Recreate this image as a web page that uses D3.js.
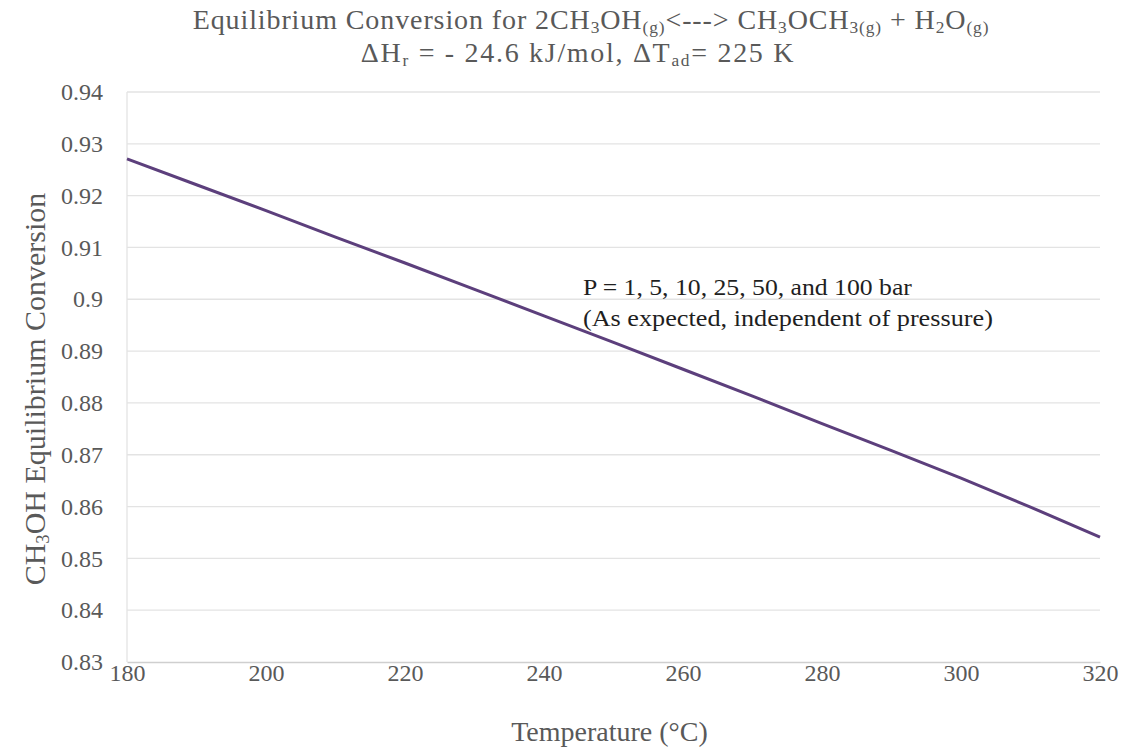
<!DOCTYPE html>
<html>
<head>
<meta charset="utf-8">
<script src="https://cdn.jsdelivr.net/npm/d3@7"></script>
<style>
  body { margin: 0; background: #fff; }
</style>
</head>
<body>
<svg id="chart" width="1128" height="749"></svg>
<script>
// temperature (°C) and equilibrium conversion
var temps = [180, 190, 200, 210, 220, 230, 240, 250, 260, 270, 280, 290, 300, 310, 320];
var conversion = [0.9271, 0.9221, 0.9171, 0.9120, 0.9070, 0.9019, 0.8968, 0.8917, 0.8865, 0.8813, 0.8760, 0.8708, 0.8655, 0.8599, 0.8541];
var xTicks = [180, 200, 220, 240, 260, 280, 300, 320];
var yTicks = [0.83, 0.84, 0.85, 0.86, 0.87, 0.88, 0.89, 0.9, 0.91, 0.92, 0.93, 0.94];
var noteLines = ["P = 1, 5, 10, 25, 50, and 100 bar", "(As expected, independent of pressure)"];
var noteWidths = [329, 410];

const FONT = "Liberation Serif";
const margin = { top: 92, right: 28, bottom: 87, left: 127 };
const width = 1128 - margin.left - margin.right,
      height = 749 - margin.top - margin.bottom;

var svg = d3.select("#chart").style("font-family", FONT);
var g = svg.append("g").attr("transform", "translate(" + margin.left + "," + margin.top + ")");

var x = d3.scaleLinear().domain([180, 320]).range([0, width]);
var y = d3.scaleLinear().domain([0.83, 0.94]).range([height, 0]);

// gridlines
g.append("g")
  .selectAll("line")
  .data(yTicks.slice(1))
  .enter()
  .append("line")
    .attr("x1", 0).attr("x2", width)
    .attr("y1", d => y(d)).attr("y2", d => y(d))
    .style("stroke", "#e3e3e3")
    .style("stroke-width", 1.3);

// left axis line (light)
g.append("line")
  .attr("x1", 0).attr("x2", 0)
  .attr("y1", 0).attr("y2", height)
  .style("stroke", "#e3e3e3").style("stroke-width", 1.3);

// bottom axis
var xAxis = g.append("g")
  .attr("transform", "translate(0," + height + ")")
  .call(d3.axisBottom(x).tickValues(xTicks).tickSize(0).tickPadding(2).tickFormat(d3.format("d")));
xAxis.attr("font-family", null);
xAxis.select(".domain").style("stroke", "#cfcfcf").style("stroke-width", 1.5);
xAxis.selectAll("text").style("font-family", FONT).style("font-size", "24px").style("fill", "#595959");

var yAxis = g.append("g")
  .call(d3.axisLeft(y).tickValues(yTicks).tickSize(0).tickPadding(24).tickFormat(d => String(+d.toFixed(2))));
yAxis.attr("font-family", null);
yAxis.select(".domain").remove();
yAxis.selectAll("text").style("font-family", FONT).style("font-size", "24px").style("fill", "#595959");

// line
var line = d3.line().x((d, i) => x(temps[i])).y(d => y(d));
g.append("path")
  .datum(conversion)
  .attr("d", line)
  .style("fill", "none")
  .style("stroke", "#5c3f7c")
  .style("stroke-width", 3);

// annotation
g.append("g").selectAll("text")
  .data(noteLines)
  .enter()
  .append("text")
    .attr("x", x(245.6))
    .attr("y", (d, i) => y(0.9009) + i * 31)
    .attr("textLength", (d, i) => noteWidths[i])
    .attr("lengthAdjust", "spacingAndGlyphs")
    .style("font-size", "23px")
    .style("fill", "#1f1f1f")
    .text(d => d);

// title
var title = svg.append("g").style("fill", "#595959");
function sub(el, s) { el.append("tspan").attr("baseline-shift", "-22%").style("font-size", "62%").text(s); }
function norm(el, s) { el.append("tspan").text(s); }
var t1 = title.append("text").attr("x", 591).attr("y", 29).attr("text-anchor", "middle").style("font-size", "28px").attr("letter-spacing", "0.9");
norm(t1, "Equilibrium Conversion for 2CH"); sub(t1, "3"); norm(t1, "OH"); sub(t1, "(g)");
norm(t1, "<---> CH"); sub(t1, "3"); norm(t1, "OCH"); sub(t1, "3(g)"); norm(t1, " + H"); sub(t1, "2"); norm(t1, "O"); sub(t1, "(g)");
var t2 = title.append("text").attr("x", 578).attr("y", 62).attr("text-anchor", "middle").style("font-size", "28px").attr("letter-spacing", "1.7");
norm(t2, "\u0394H"); sub(t2, "r"); norm(t2, " = - 24.6 kJ/mol, \u0394T"); sub(t2, "ad"); norm(t2, "= 225 K");

// axis titles
svg.append("text")
  .attr("x", margin.left + width / 2 - 4).attr("y", 741)
  .attr("text-anchor", "middle")
  .style("font-size", "28px").style("fill", "#595959")
  .text("Temperature (\u00B0C)");

var yt = svg.append("text")
  .attr("transform", "translate(45,389) rotate(-90)")
  .attr("text-anchor", "middle")
  .style("font-size", "30px").style("fill", "#595959");
norm(yt, "CH"); sub(yt, "3"); norm(yt, "OH Equilibrium Conversion");
</script>
</body>
</html>
